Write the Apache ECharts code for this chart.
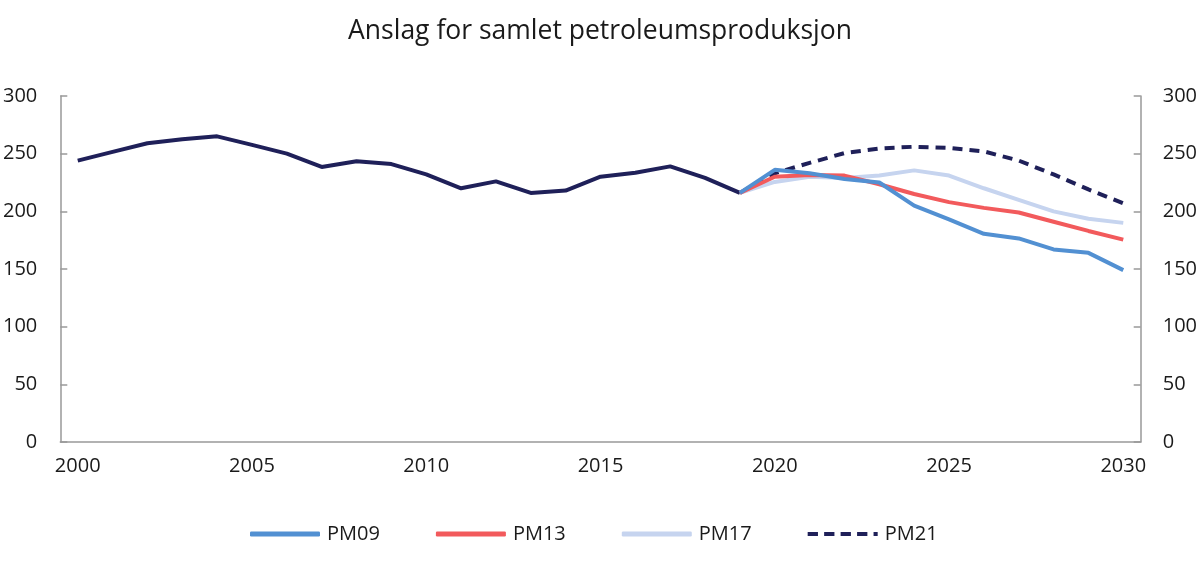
<!DOCTYPE html>
<html>
<head>
<meta charset="utf-8">
<script src="https://cdn.jsdelivr.net/npm/echarts@6/dist/echarts.min.js"></script>
<style>
html,body{margin:0;padding:0;background:#fff;}
#chart{width:1200px;height:562px;}
</style>
</head>
<body>
<div id="chart"></div>
<script>
const years = ['2000','2001','2002','2003','2004','2005','2006','2007','2008','2009','2010',
  '2011','2012','2013','2014','2015','2016','2017','2018','2019','2020',
  '2021','2022','2023','2024','2025','2026','2027','2028','2029','2030'];
const yTicks = [0, 50, 100, 150, 200, 250, 300];

// Historical production 2000-2019
const historical = [244, 251.6, 259, 262.5, 265, 257.6, 250, 238.5, 243.5, 241, 232,
  220, 226, 216, 218, 230, 233.5, 239, 229, 216];
// Forecasts 2019-2030
const pm09 = [216, 236, 233, 228, 225, 205, 193, 180.5, 176.5, 167, 164, 149];
const pm13 = [216, 230, 231.5, 231, 223.5, 215, 208, 203, 199, 191, 183, 175.5];
const pm17 = [216, 225.5, 230, 229, 231, 235.5, 231, 220, 210, 200, 193.5, 190];
const pm21 = [216, 233, 242, 250.5, 254.5, 256, 255, 252, 244, 232, 219, 207];

const histStart = 0;       // index of 2000
const fcStart = 19;        // index of 2019

function pad(arr, start) {
  const out = years.map(() => null);
  arr.forEach((v, i) => { out[start + i] = v; });
  return out;
}

const FONT = '"Open Sans", "Noto Sans", sans-serif';
const colors = {
  hist: '#1f2059',
  pm09: '#5290d2',
  pm13: '#f25a5c',
  pm17: '#c6d4ef',
  pm21: '#1f2059'
};

const SOLID_ICON = 'roundRect';
const DASH_ICON = 'path://M0,0h10v4h-10z M16,0h10v4h-10z M32,0h10v4h-10z M48,0h10v4h-10z M64,0h4v4h-4z';

const chart = echarts.init(document.getElementById('chart'));
const yAxisCommon = {
  type: 'value', min: yTicks[0], max: yTicks[yTicks.length - 1], interval: yTicks[1] - yTicks[0],
  axisLine: { show: true, lineStyle: { color: '#999', width: 1.5 } },
  axisTick: { show: true, inside: true, length: 7, lineStyle: { color: '#999', width: 1.5 } },
  splitLine: { show: false },
  axisLabel: { color: '#1a1a1a', fontSize: 20, fontFamily: FONT }
};

chart.setOption({
  animation: false,
  title: {
    text: 'Anslag for samlet petroleumsproduksjon',
    left: 'center', top: 13,
    textStyle: { fontSize: 26.5, fontWeight: 'normal', color: '#1a1a1a', fontFamily: FONT }
  },
  grid: { left: 59, right: 59, top: 96, bottom: 120, containLabel: false },
  legend: {
    bottom: 13, left: 245,
    data: [
      { name: 'PM09', icon: SOLID_ICON },
      { name: 'PM13', icon: SOLID_ICON },
      { name: 'PM17', icon: SOLID_ICON },
      { name: 'PM21', icon: DASH_ICON }
    ],
    itemWidth: 70, itemHeight: 5, itemGap: 56,
    textStyle: { fontSize: 20, color: '#1a1a1a', fontFamily: FONT, padding: [0, 0, 0, 2] }
  },
  xAxis: {
    type: 'category', data: years, boundaryGap: true,
    axisLine: { show: true, lineStyle: { color: '#999', width: 1.5 } },
    axisTick: { show: false },
    axisLabel: { interval: 4, color: '#1a1a1a', fontSize: 20, fontFamily: FONT, margin: 14 }
  },
  yAxis: [
    Object.assign({}, yAxisCommon, { position: 'left', axisLabel: Object.assign({}, yAxisCommon.axisLabel, { margin: 23 }) }),
    Object.assign({}, yAxisCommon, { position: 'right', axisLabel: Object.assign({}, yAxisCommon.axisLabel, { margin: 22 }) })
  ],
  series: [
    { name: 'Historisk', type: 'line', data: pad(historical, histStart), showSymbol: false, symbol: 'none',
      lineStyle: { color: colors.hist, width: 4 }, itemStyle: { color: colors.hist }, z: 2 },
    { name: 'PM21', type: 'line', data: pad(pm21, fcStart), showSymbol: false, symbol: 'none',
      lineStyle: { color: colors.pm21, width: 4, type: [10, 7] }, itemStyle: { color: colors.pm21 }, z: 3 },
    { name: 'PM17', type: 'line', data: pad(pm17, fcStart), showSymbol: false, symbol: 'none',
      lineStyle: { color: colors.pm17, width: 4 }, itemStyle: { color: colors.pm17 }, z: 4 },
    { name: 'PM13', type: 'line', data: pad(pm13, fcStart), showSymbol: false, symbol: 'none',
      lineStyle: { color: colors.pm13, width: 4 }, itemStyle: { color: colors.pm13 }, z: 5 },
    { name: 'PM09', type: 'line', data: pad(pm09, fcStart), showSymbol: false, symbol: 'none',
      lineStyle: { color: colors.pm09, width: 4 }, itemStyle: { color: colors.pm09 }, z: 6 }
  ]
});
</script>
</body>
</html>
